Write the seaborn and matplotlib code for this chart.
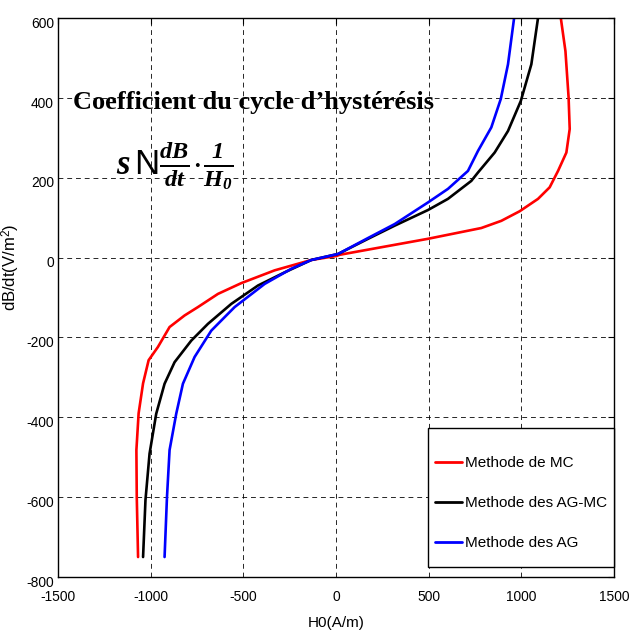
import numpy as np
import pandas as pd
import matplotlib
matplotlib.use("Agg")
import matplotlib.pyplot as plt
import matplotlib.transforms as mtransforms
from matplotlib import font_manager as fm
from matplotlib.patches import Rectangle
import seaborn as sns

# ---- data ----
mc_H = [-1068, -1075, -1077, -1065, -1041, -1011, -961, -898, -817, -745, -637, -511, -331, -133, 2, 20,
        496, 784, 892, 991, 1090, 1153, 1198, 1243, 1261, 1255, 1238, 1213]
mc_V = [-750, -600, -482, -390, -315, -257, -224, -174, -145, -124, -91, -64, -32, -6, 4, 7,
        47, 74, 92, 116, 147, 176, 217, 263, 322, 401, 517, 600]

agmc_H = [-1041, -1028, -1006, -970, -925, -871, -781, -691, -565, -421, -277, -133, 11, 173, 317,
          496, 604, 730, 766, 856, 928, 997, 1054, 1090]
agmc_V = [-750, -607, -491, -391, -316, -262, -208, -166, -116, -70, -37, -6, 9, 47, 80,
          119, 147, 192, 213, 263, 317, 392, 484, 600]

ag_H = [-925, -912, -898, -862, -826, -763, -673, -547, -385, -241, -133, 11, 173, 317, 496, 604,
        712, 766, 838, 889, 928, 961]
ag_V = [-750, -600, -482, -391, -316, -249, -183, -124, -66, -28, -6, 9, 49, 84, 138, 172,
        217, 267, 326, 397, 484, 600]

labels = ["Methode de MC", "Methode des AG-MC", "Methode des AG"]
colors = ["#ff0000", "#000000", "#0000ff"]

x_ticks = [-1500, -1000, -500, 0, 500, 1000, 1500]
y_ticks = [-800, -600, -400, -200, 0, 200, 400, 600]

series = [(mc_H, mc_V), (agmc_H, agmc_V), (ag_H, ag_V)]
frames = []
for lab, (h, v) in zip(labels, series):
    frames.append(pd.DataFrame({"H0": h, "dBdt": v, "method": lab}))
df = pd.concat(frames, ignore_index=True)


def has_font(name):
    try:
        fm.findfont(fm.FontProperties(family=name), fallback_to_default=False)
        return True
    except Exception:
        return False


if has_font("Liberation Sans Narrow"):
    sfam, k = "Liberation Sans Narrow", 1 / 0.82
else:
    sfam, k = "Liberation Sans", 1.0

sns.set_style("white")
plt.rcParams["font.family"] = [sfam, "Liberation Sans", "DejaVu Sans"]
for key in ["text.color", "axes.labelcolor", "xtick.color", "ytick.color"]:
    plt.rcParams[key] = "black"
plt.rcParams["mathtext.fontset"] = "custom"
plt.rcParams["mathtext.it"] = "Liberation Serif:bold:italic"
plt.rcParams["mathtext.rm"] = "Liberation Sans"
plt.rcParams["mathtext.bf"] = "Liberation Serif:bold:italic"

fig = plt.figure(figsize=(6.33, 6.35), dpi=100)
ax = fig.add_axes([58 / 633, 1 - 577 / 635, (614 - 58) / 633, (577 - 18) / 635])

sns.lineplot(data=df, x="H0", y="dBdt", hue="method", palette=dict(zip(labels, colors)),
             hue_order=labels, sort=False, estimator=None, units="method", lw=1.9, ax=ax,
             legend=True)

ax.set_xlim(-1500, 1500)
ax.set_ylim(-800, 600)
ax.set_xticks(x_ticks)
ax.set_yticks(y_ticks)
ax.set_xticklabels([str(t) for t in x_ticks])
ax.set_yticklabels([str(t) for t in y_ticks])
ax.tick_params(direction="in", length=4, width=0.8, top=True, right=True,
               labelsize=9.9 * k, colors="black")
ax.tick_params(axis="x", pad=9.5)
ax.tick_params(axis="y", pad=3)
shift = mtransforms.ScaledTranslation(0, -3 / 72, fig.dpi_scale_trans)
for lbl in ax.get_yticklabels():
    lbl.set_transform(lbl.get_transform() + shift)
for s in ax.spines.values():
    s.set_color("black")
    s.set_linewidth(1.0)

ax.grid(True, color="black", linestyle=(0, (5, 4)), linewidth=0.7, alpha=0.85)
ax.set_axisbelow(True)

ax.set_xlabel("H0(A/m)", fontsize=11 * k)
ax.xaxis.set_label_coords(0.5, (577 - 616) / 559)
ax.set_ylabel(r"dB/dt(V/m$^2$)", fontsize=12, family=["Liberation Sans"])
ax.yaxis.set_label_coords((22 - 58) / 556, (577 - 267) / 559)

ax.text(-1419, 372, "Coefficient du cycle d\u2019hystérésis", fontsize=19, fontweight="bold",
        family=["Liberation Serif"], ha="left", va="baseline", color="black")
ax.text(-1187, 230,
        r"$\mathbf{s}\,\mathrm{N}\frac{\mathbf{dB}}{\mathbf{dt}}\!\cdot\!\frac{\mathbf{1}}{\mathbf{H_0}}$",
        fontsize=25, ha="left", va="center", color="black")

# legend box (white, covering the grid) and frameless legend inside it
ax.add_patch(Rectangle(((428 - 58) / 556, (577 - 567) / 559), (614 - 428) / 556, (567 - 428) / 559,
                       transform=ax.transAxes, facecolor="white", edgecolor="black",
                       linewidth=1.0, zorder=4, clip_on=False))
fs_leg = 11 * k
fs_px = fs_leg * 100 / 72
leg = ax.legend(loc="center left", bbox_to_anchor=((435 - 58) / 556, (577 - 503) / 559),
                borderaxespad=0, borderpad=0, fontsize=fs_leg, frameon=False,
                handlelength=27 / fs_px, handletextpad=3 / fs_px, labelspacing=1.7)
leg.set_zorder(5)
for line in leg.get_lines():
    line.set_linewidth(2.0)

fig.savefig("out.png", dpi=100)
